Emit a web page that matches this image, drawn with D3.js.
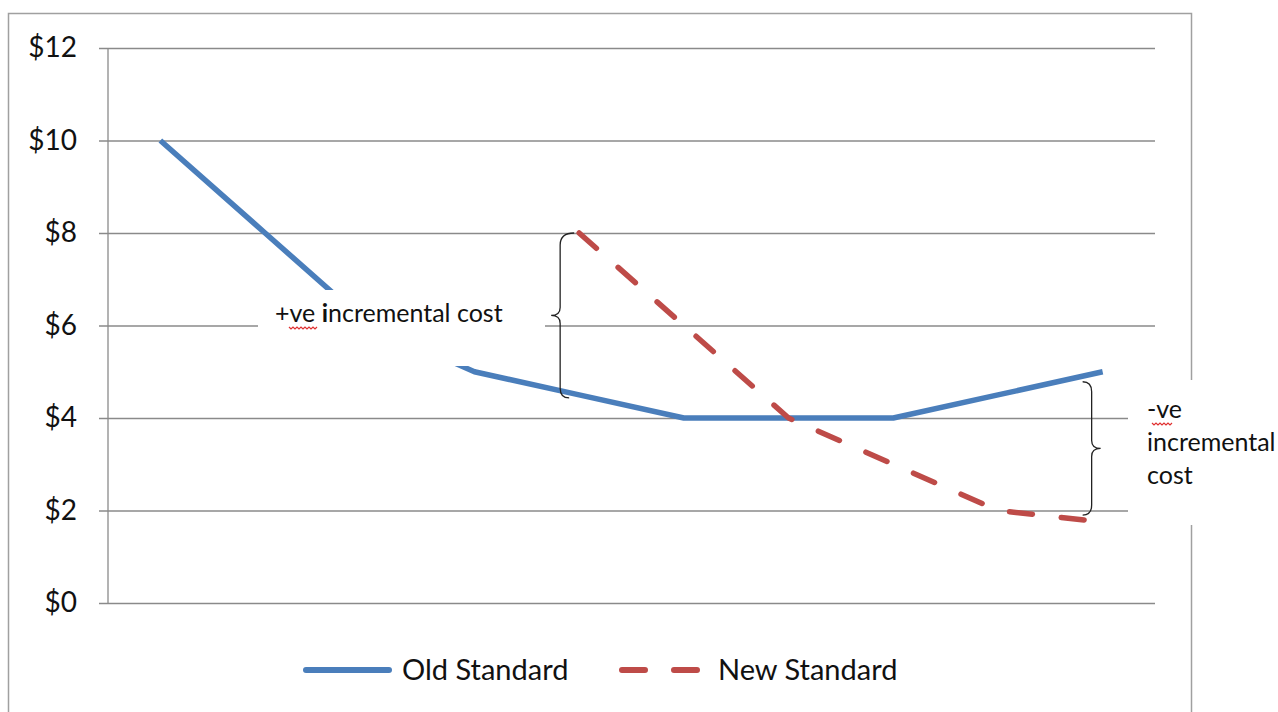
<!DOCTYPE html>
<html>
<head>
<meta charset="utf-8">
<script src="https://cdn.jsdelivr.net/npm/d3@7"></script>
<style>
  body { margin: 0; background: #fff; }
  svg { display: block; font-family: Lato, "Open Sans", sans-serif; }
</style>
</head>
<body>
<div id="chart"></div>
<script>
// data
const categories = [1, 2, 3, 4, 5, 6, 7, 8, 9, 10];
const oldStandard = [10, 8, 6, 5, 4.5, 4, 4, 4, 4.5, 5];
const newStandard = [null, null, null, null, 8, 6, 4, 3, 2, 1.75];
const yTicks = [0, 2, 4, 6, 8, 10, 12];
const seriesNames = ['Old Standard', 'New Standard'];

const width = 1278, height = 712;
const plot = { left: 108, right: 1155, top: 48, bottom: 603 };

const svg = d3.select('#chart').append('svg')
    .attr('width', width)
    .attr('height', height);

// outer chart frame
svg.append('rect')
    .attr('x', 8.5).attr('y', 13.5)
    .attr('width', 1183).attr('height', 720)
    .attr('fill', '#fff')
    .attr('stroke', '#a0a0a0')
    .attr('stroke-width', 1.5);

const x = d3.scalePoint()
    .domain(categories)
    .range([plot.left, plot.right])
    .padding(0.5);

const y = d3.scaleLinear()
    .domain([0, 12])
    .range([plot.bottom, plot.top]);

// gridlines + tick labels
const yAxis = d3.axisLeft(y)
    .tickValues(yTicks)
    .tickFormat(d => '$' + d)
    .tickSize(-(plot.right - 99))
    .tickPadding(22);

const yAxisG = svg.append('g')
    .attr('transform', 'translate(99,0)')
    .call(yAxis)
    .attr('font-family', 'Lato, "Open Sans", sans-serif')
    .attr('font-size', 28);
yAxisG.select('.domain').remove();
yAxisG.selectAll('.tick line')
    .attr('stroke', '#8a8a8a')
    .attr('stroke-width', 1.3);
yAxisG.selectAll('.tick text')
    .attr('fill', '#111');

// vertical axis line
svg.append('line')
    .attr('x1', plot.left).attr('x2', plot.left)
    .attr('y1', y(12)).attr('y2', y(0))
    .attr('stroke', '#8a8a8a')
    .attr('stroke-width', 1.3);

const line = d3.line()
    .defined(d => d.v !== null)
    .x(d => x(d.c))
    .y(d => y(d.v));

const oldData = categories.map((c, i) => ({ c: c, v: oldStandard[i] }));
const newData = categories.map((c, i) => ({ c: c, v: newStandard[i] }));

svg.append('path')
    .datum(oldData)
    .attr('d', line)
    .attr('fill', 'none')
    .attr('stroke', '#4a7ebb')
    .attr('stroke-width', 5.5)
    .attr('stroke-linejoin', 'round');

svg.append('path')
    .datum(newData)
    .attr('d', line)
    .attr('fill', 'none')
    .attr('stroke', '#be4b48')
    .attr('stroke-width', 5.5)
    .attr('stroke-linecap', 'round')
    .attr('stroke-dasharray', '23,29');

// red wavy "spell check" underline
function squiggle(x0, x1, yy) {
  let d = `M${x0},${yy}`;
  for (let xx = x0; xx < x1; xx += 4) {
    d += ` L${xx + 2},${yy + 2} L${xx + 4},${yy}`;
  }
  return d;
}

// annotation 1: +ve incremental cost
svg.append('rect')
    .attr('x', 258).attr('y', 290)
    .attr('width', 287).attr('height', 76)
    .attr('fill', '#fff');

const t1 = svg.append('text')
    .attr('x', 275).attr('y', 322)
    .attr('font-size', 25)
    .attr('fill', '#111');
t1.append('tspan').text('+ve ');
t1.append('tspan').attr('font-weight', 'bold').text('i');
t1.append('tspan').text('ncremental cost');

svg.append('path')
    .attr('d', squiggle(289, 317, 327))
    .attr('fill', 'none')
    .attr('stroke', '#e03030')
    .attr('stroke-width', 1.2);

// brace between the two lines at category 5
const bx = x(5) - 19;
const bTop = y(8), bBot = y(4.5) + 3, bMid = (bTop + bBot) / 2;
svg.append('path')
    .attr('d', `M${bx + 14},${bTop} Q${bx},${bTop} ${bx},${bTop + 12}
      L${bx},${bMid - 8} Q${bx},${bMid} ${bx - 9},${bMid}
      Q${bx},${bMid} ${bx},${bMid + 8}
      L${bx},${bBot - 10} Q${bx},${bBot} ${bx + 9},${bBot}`)
    .attr('fill', 'none')
    .attr('stroke', '#222')
    .attr('stroke-width', 1.3);

// annotation 2: -ve incremental cost
svg.append('rect')
    .attr('x', 1128).attr('y', 380)
    .attr('width', 150).attr('height', 145)
    .attr('fill', '#fff');

const t2 = svg.append('text')
    .attr('font-size', 25)
    .attr('fill', '#111');
['-ve', 'incremental', 'cost'].forEach((s, i) => {
  t2.append('tspan')
      .attr('x', 1147)
      .attr('y', 418 + i * 33)
      .text(s);
});

svg.append('path')
    .attr('d', squiggle(1152, 1172, 423))
    .attr('fill', 'none')
    .attr('stroke', '#e03030')
    .attr('stroke-width', 1.2);

// brace at the right end
const rx = x(10) - 11;
const rTop = y(5) + 10, rBot = y(1.75) - 7, rMid = (rTop + rBot) / 2;
svg.append('path')
    .attr('d', `M${rx - 9},${rTop} Q${rx},${rTop} ${rx},${rTop + 10}
      L${rx},${rMid - 8} Q${rx},${rMid} ${rx + 9},${rMid}
      Q${rx},${rMid} ${rx},${rMid + 8}
      L${rx},${rBot - 10} Q${rx},${rBot} ${rx - 9},${rBot}`)
    .attr('fill', 'none')
    .attr('stroke', '#222')
    .attr('stroke-width', 1.3);

// legend
const legend = svg.append('g').attr('transform', 'translate(0,670)');
legend.append('line')
    .attr('x1', 306).attr('x2', 389)
    .attr('stroke', '#4a7ebb')
    .attr('stroke-width', 6)
    .attr('stroke-linecap', 'round');
legend.append('text')
    .attr('x', 402).attr('y', 10)
    .attr('font-size', 29)
    .attr('fill', '#111')
    .text(seriesNames[0]);
legend.append('line')
    .attr('x1', 622).attr('x2', 697)
    .attr('stroke', '#be4b48')
    .attr('stroke-width', 6)
    .attr('stroke-linecap', 'round')
    .attr('stroke-dasharray', '23,29');
legend.append('text')
    .attr('x', 718).attr('y', 10)
    .attr('font-size', 29)
    .attr('fill', '#111')
    .text(seriesNames[1]);
</script>
</body>
</html>
